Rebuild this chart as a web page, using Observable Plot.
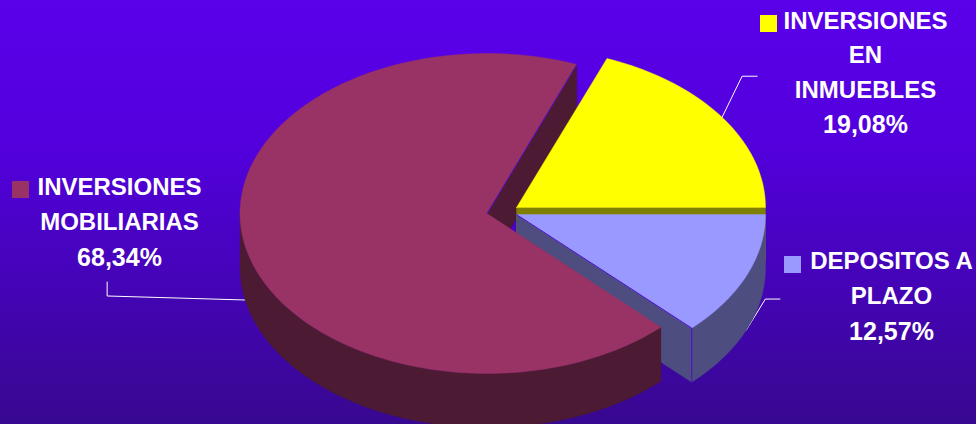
<!DOCTYPE html>
<html lang="es">
<head>
<meta charset="utf-8">
<script src="https://cdn.jsdelivr.net/npm/d3@7"></script>
<script src="https://cdn.jsdelivr.net/npm/@observablehq/plot@0.6"></script>
<style>
html,body{margin:0;padding:0;width:976px;height:424px;overflow:hidden;background:linear-gradient(#5a00ea,#5200dc 35%,#370890);}
svg{display:block;background:transparent!important;}
</style>
</head>
<body>
<script>
// Data
const categories = ["INVERSIONES EN INMUEBLES", "DEPOSITOS A PLAZO", "INVERSIONES MOBILIARIAS"];
const shares = [19.08, 12.57, 68.34];
const labelLines = [
  ["INVERSIONES", "EN", "INMUEBLES"],
  ["DEPOSITOS A", "PLAZO"],
  ["INVERSIONES", "MOBILIARIAS"]
];

// Styles
const topColors = ["#ffff00", "#9999ff", "#993366"];
const sideColors = ["#808000", "#4d4d80", "#4d1a33"];
const seamColor = "#4f10cc";

// Layout of the tilted pie (ellipse radii, extrusion, exploded centres)
const W = 976, H = 424;
const rx = [249, 249, 247], ry = 160, depth = 54;
const cx = [516, 516, 486.5], cy = [207, 214, 213];
const labelX = [865, 891, 119];
const labelY = [30, 270, 196];
const lineGap = [34.7, 35.8, 35.5];
const swatchX = [760, 784, 12], swatchY = [15, 256, 181], swatchSize = 17;
const leaderOffset = [[20, -41, 35], [19, -31, 34], [-138, -4, 0]];

// Angles from the values
const total = d3.sum(shares);
const sweep = shares.map(v => v / total * 360);
const spans = [[0, sweep[0]], [-sweep[1], 0], [sweep[0], 360 - sweep[1]]];
const rad = d => d * Math.PI / 180;
const pt = (i, a, dz = 0) => [cx[i] + rx[i] * Math.cos(rad(a)), cy[i] - ry * Math.sin(rad(a)) + dz];
const arc = (i, a0, a1, dz = 0) => {
  const n = Math.ceil(Math.abs(a1 - a0) / 1.5);
  return d3.range(n + 1).map(k => pt(i, a0 + (a1 - a0) * k / n, dz));
};
const apex = (i, dz = 0) => [cx[i], cy[i] + dz];
const face = (points, fill) => Plot.line([...points, points[0]], {x: d => d[0], y: d => d[1], fill, stroke: fill, strokeWidth: 0.4, curve: "linear"});
const seam = points => Plot.line(points, {x: d => d[0], y: d => d[1], stroke: seamColor, strokeWidth: 1, curve: "linear"});

// Radial wall of a slice at angle a
const wall = (i, a) => [apex(i), pt(i, a), pt(i, a, depth), apex(i, depth)];
// Rim wall between two angles
const rim = (i, a0, a1) => [...arc(i, a0, a1), ...arc(i, a1, a0, depth)];

const marks = [];

// Leader lines from each slice's middle to its label (behind the pie)
categories.forEach((c, i) => {
  const mid = (spans[i][0] + spans[i][1]) / 2;
  const s = pt(i, mid, i === 0 ? 0 : depth);
  const [dx, dy, run] = leaderOffset[i];
  const pts = i === 2
    ? [s, [s[0] + dx, s[1] + dy], [s[0] + dx, s[1] + dy - 14]]
    : [s, [s[0] + dx, s[1] + dy], [s[0] + dx + run * 0.43, s[1] + dy]];
  marks.push(Plot.line(pts, {x: d => d[0], y: d => d[1], stroke: "#ffffff", strokeWidth: 1, curve: "linear"}));
});

marks.push(
  // Mobiliarias: radial wall at the back
  face(wall(2, spans[2][0]), sideColors[2]),
  // Inmuebles: front wall and top
  face(wall(0, 0), sideColors[0]),
  face([apex(0), ...arc(0, spans[0][0], spans[0][1])], topColors[0]),
  // Depositos: walls and top
  face(wall(1, spans[1][0]), sideColors[1]),
  face(rim(1, spans[1][0], 0), sideColors[1]),
  face([apex(1), ...arc(1, spans[1][0], spans[1][1])], topColors[1]),
  seam([apex(1), pt(1, spans[1][0]), pt(1, spans[1][0], depth)]),
  // Mobiliarias: rim and top
  face(rim(2, 180, spans[2][1]), sideColors[2]),
  face([apex(2), ...arc(2, spans[2][0], spans[2][1])], topColors[2]),
  seam([apex(2), pt(2, spans[2][0])])
);

// Legend swatches and labels
const swatches = categories.map((c, i) => ({i, x1: swatchX[i], x2: swatchX[i] + swatchSize, y1: swatchY[i], y2: swatchY[i] + swatchSize}));
marks.push(Plot.rect(swatches, {x1: "x1", x2: "x2", y1: "y1", y2: "y2", fill: d => topColors[d.i]}));

const rows = categories.flatMap((c, i) => {
  const lines = [...labelLines[i], shares[i].toFixed(2).replace(".", ",") + "%"];
  return lines.map((text, k) => ({text, x: labelX[i], y: labelY[i] + k * lineGap[i], size: k === lines.length - 1 ? 25 : 24}));
});
marks.push(Plot.text(rows, {
  x: "x", y: "y", text: "text", fontSize: "size", fill: "#ffffff", textAnchor: "middle", lineAnchor: "bottom",
  fontFamily: "Liberation Sans", fontWeight: 700, dy: -2
}));

const chart = Plot.plot({
  width: W, height: H,
  marginTop: 0, marginRight: 0, marginBottom: 0, marginLeft: 0,
  x: {domain: [0, W], range: [0, W], axis: null},
  y: {domain: [0, H], range: [0, H], axis: null},
  style: {background: "transparent"},
  marks
});
document.body.appendChild(chart);
</script>
</body>
</html>
